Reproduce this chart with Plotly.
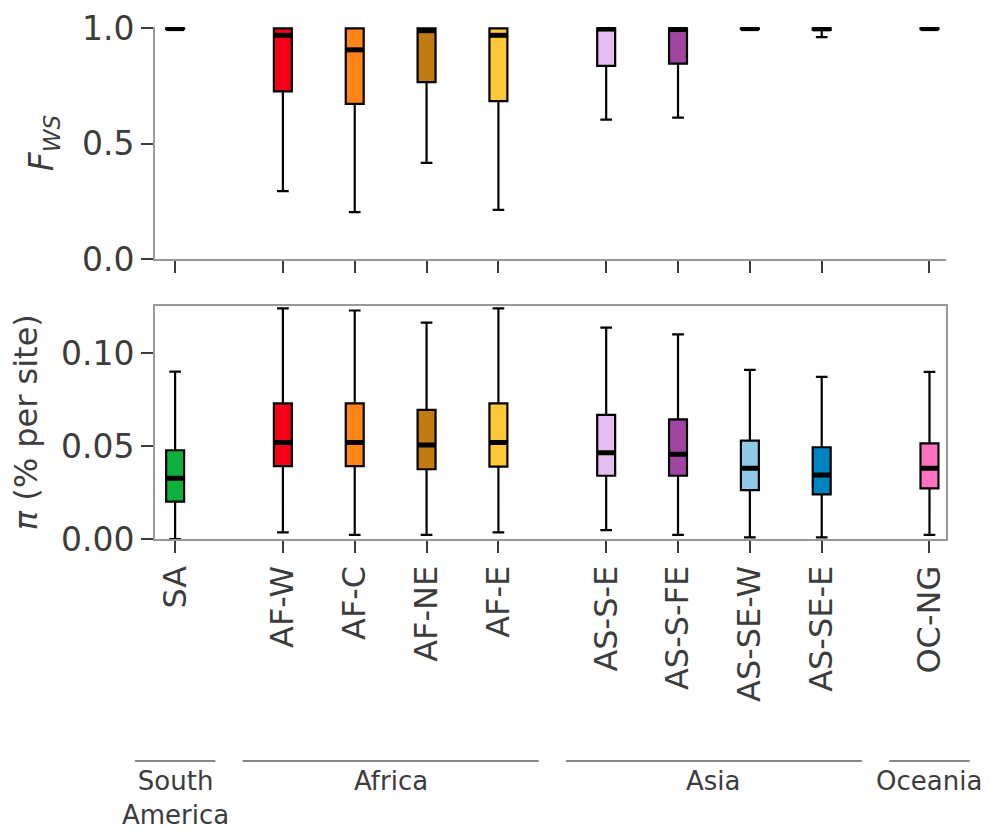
import plotly.graph_objects as go
from plotly.subplots import make_subplots

# ---------------- data ----------------
labels = ["SA", "AF-W", "AF-C", "AF-NE", "AF-E", "AS-S-E", "AS-S-FE", "AS-SE-W", "AS-SE-E", "OC-NG"]
positions = [0, 1.5, 2.5, 3.5, 4.5, 6, 7, 8, 9, 10.5]
colors = ["#0db03b", "#f50016", "#ff8419", "#c27a12", "#ffc83a",
          "#e6bdef", "#a245a2", "#8ecae6", "#0083c3", "#ff73bf"]

# F_WS box statistics
fws_low = [0.996, 0.294, 0.203, 0.417, 0.213, 0.604, 0.613, 0.997, 0.962, 0.996]
fws_q1 = [0.998, 0.727, 0.673, 0.767, 0.685, 0.837, 0.847, 0.998, 0.993, 0.998]
fws_med = [0.999, 0.970, 0.907, 0.990, 0.970, 0.997, 0.995, 0.999, 0.998, 0.999]
fws_q3 = [1.0, 1.0, 1.0, 1.0, 1.0, 1.0, 1.0, 1.0, 1.0, 1.0]
fws_high = [1.0, 1.0, 1.0, 1.0, 1.0, 1.0, 1.0, 1.0, 1.0, 1.0]

# pi box statistics
pi_low = [0.0, 0.0036, 0.0022, 0.0022, 0.0036, 0.0048, 0.0022, 0.0009, 0.0009, 0.0022]
pi_q1 = [0.0201, 0.0392, 0.0392, 0.0375, 0.0389, 0.0340, 0.0340, 0.0263, 0.0240, 0.0272]
pi_med = [0.0326, 0.0518, 0.0518, 0.0505, 0.0518, 0.0464, 0.0455, 0.0380, 0.0344, 0.0380]
pi_q3 = [0.0477, 0.0729, 0.0729, 0.0694, 0.0729, 0.0667, 0.0643, 0.0529, 0.0493, 0.0514]
pi_high = [0.0900, 0.1240, 0.1228, 0.1163, 0.1240, 0.1136, 0.1100, 0.0909, 0.0871, 0.0898]

groups = ["South<br>America", "Africa", "Asia", "Oceania"]
group_members = [[0], [1, 2, 3, 4], [5, 6, 7, 8], [9]]

# ---------------- figure ----------------
W, H = 989, 831
FONT = "DejaVu Sans"
TXT = "#3c3c3c"
SPINE = "#999999"
BOXW = 0.25
XR = [-0.28, 10.73]
TICKSIZE = 33

fig = make_subplots(rows=2, cols=1, shared_xaxes=False, vertical_spacing=0.05)

def add_boxes(row, low, q1, med, q3, high):
    for i, p in enumerate(positions):
        fig.add_trace(go.Box(
            x=[p], lowerfence=[low[i]], q1=[q1[i]], median=[med[i]], q3=[q3[i]],
            upperfence=[high[i]], width=BOXW, whiskerwidth=0.65,
            fillcolor=colors[i], line=dict(color="black", width=2.2),
            boxpoints=False, showlegend=False, hoverinfo="skip"), row=row, col=1)
        fig.add_trace(go.Scatter(
            x=[p - BOXW / 2, p + BOXW / 2], y=[med[i], med[i]],
            mode="lines", line=dict(color="black", width=5),
            showlegend=False, hoverinfo="skip"), row=row, col=1)

add_boxes(1, fws_low, fws_q1, fws_med, fws_q3, fws_high)
add_boxes(2, pi_low, pi_q1, pi_med, pi_q3, pi_high)

def py(pix):
    return (H - pix) / H

axis_common = dict(
    range=XR, tickmode="array", tickvals=positions, ticks="outside",
    ticklen=12, tickwidth=2, tickcolor=TXT, showgrid=False, zeroline=False,
    showline=True, linecolor=SPINE, linewidth=2, automargin=False,
)
fig.update_xaxes(**axis_common, showticklabels=False, mirror=False, row=1, col=1)
fig.update_xaxes(**axis_common, ticktext=labels, tickangle=-90, mirror=True,
                 tickfont=dict(family=FONT, size=32, color=TXT), row=2, col=1)

yax_common = dict(
    ticks="outside", ticklen=12, tickwidth=2, tickcolor=TXT, showgrid=False,
    zeroline=False, showline=True, linecolor=SPINE, linewidth=2, automargin=False,
    tickfont=dict(family=FONT, size=TICKSIZE, color=TXT),
)
fig.update_yaxes(**yax_common, range=[0, 1.006], tickvals=[0, 0.5, 1.0],
                 ticktext=["0.0", "0.5", "1.0"],
                 title=dict(text="<i>F</i><sub><i>WS</i></sub>",
                            font=dict(family=FONT, size=33, color=TXT), standoff=18),
                 row=1, col=1)
fig.update_yaxes(**yax_common, range=[0, 0.1255], tickvals=[0, 0.05, 0.10],
                 ticktext=["0.00", "0.05", "0.10"], mirror=True,
                 title=dict(text="<i>π</i> (% per site)",
                            font=dict(family=FONT, size=32, color=TXT), standoff=14),
                 row=2, col=1)

fig.update_layout(
    width=W, height=H,
    margin=dict(l=155, r=43, t=0, b=0),
    plot_bgcolor="white", paper_bgcolor="white",
    xaxis=dict(domain=[0, 1]), xaxis2=dict(domain=[0, 1]),
    yaxis=dict(domain=[py(259), py(27)]),
    yaxis2=dict(domain=[py(539), py(305.5)]),
)

# group brackets (lines + labels) under the chart
def to_paper(v):
    return (v - XR[0]) / (XR[1] - XR[0])

for name, members in zip(groups, group_members):
    lo = positions[members[0]] - 0.56
    hi = positions[members[-1]] + 0.56
    fig.add_shape(type="line", xref="paper", yref="paper",
                  x0=to_paper(lo), x1=to_paper(hi), y0=py(761), y1=py(761),
                  line=dict(color="#888888", width=2))
    center = (positions[members[0]] + positions[members[-1]]) / 2
    fig.add_annotation(xref="paper", yref="paper", x=to_paper(center), y=py(764),
                       text=name, showarrow=False, xanchor="center", yanchor="top",
                       font=dict(family=FONT, size=26, color=TXT), align="center")

fig.write_html("out.html")
